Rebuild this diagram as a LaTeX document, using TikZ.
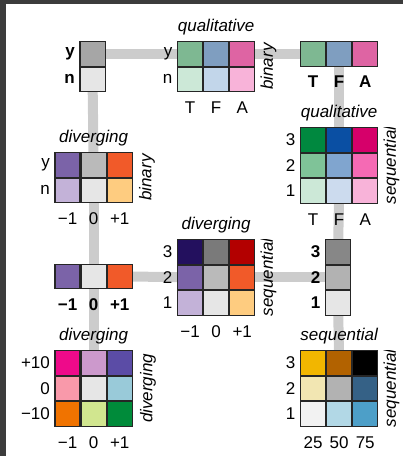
\documentclass[tikz,border=0pt]{standalone}
\usepackage{fontspec}
\setmainfont{Liberation Sans}
\usetikzlibrary{matrix,positioning,backgrounds}

\definecolor{framegray}{HTML}{3C3C3C}
\definecolor{linkgray}{HTML}{CCCCCC}
% grays
\definecolor{gA}{HTML}{E6E6E6}
\definecolor{gB}{HTML}{BABABA}
\definecolor{gC}{HTML}{A6A6A6}
\definecolor{gD}{HTML}{B2B2B2}
\definecolor{gE}{HTML}{7A7A7A}
% qualitative
\definecolor{qgrnA}{HTML}{CCE8D7}
\definecolor{qgrnB}{HTML}{7EB892}
\definecolor{qgrnC}{HTML}{7FC398}
\definecolor{qgrnD}{HTML}{00883F}
\definecolor{qbluA}{HTML}{C2D6EA}
\definecolor{qbluB}{HTML}{7F9EC0}
\definecolor{qbluC}{HTML}{80A5CF}
\definecolor{qbluD}{HTML}{0A4FA3}
\definecolor{qbluE}{HTML}{CCDBEE}
\definecolor{qpnkA}{HTML}{F8B3D9}
\definecolor{qpnkB}{HTML}{DE64A3}
\definecolor{qpnkC}{HTML}{F56AB4}
\definecolor{qpnkD}{HTML}{D6006A}
% diverging
\definecolor{dpurA}{HTML}{C3B2D8}
\definecolor{dpurB}{HTML}{7B63A8}
\definecolor{dpurC}{HTML}{23105E}
\definecolor{dorgA}{HTML}{FECC80}
\definecolor{dorgB}{HTML}{F15A29}
\definecolor{dorgC}{HTML}{B30000}
% diverging x diverging
\definecolor{ddA}{HTML}{EE0A8A}
\definecolor{ddB}{HTML}{CC99CC}
\definecolor{ddC}{HTML}{5B4CA6}
\definecolor{ddD}{HTML}{F999AA}
\definecolor{ddE}{HTML}{99CAD9}
\definecolor{ddF}{HTML}{F07300}
\definecolor{ddG}{HTML}{D1E68F}
\definecolor{ddH}{HTML}{008B3A}
% sequential x sequential
\definecolor{ssA}{HTML}{F2B600}
\definecolor{ssB}{HTML}{B26200}
\definecolor{ssC}{HTML}{F2E6B2}
\definecolor{ssD}{HTML}{356186}
\definecolor{ssE}{HTML}{F2F2F2}
\definecolor{ssF}{HTML}{B2D8E6}
\definecolor{ssG}{HTML}{4D9FC8}

\begin{document}
\begin{tikzpicture}[x=1pt, y=-1pt,
  every node/.style={font=\fontsize{17}{17}\selectfont, inner sep=0pt},
  cell/.style={draw=black!85, line width=1.1pt, minimum width=25pt, minimum height=24.5pt, outer sep=0pt},
  key/.style={matrix of nodes, nodes in empty cells, nodes={cell}, outer sep=0pt, anchor=north west},
  ttl/.style={font=\fontsize{17}{17}\selectfont\itshape},
  bold/.style={font=\fontsize{17}{17}\selectfont\bfseries},
  side/.style={font=\fontsize{17}{17}\selectfont\itshape, rotate=90, anchor=north},
  link/.style={draw=linkgray, line width=10pt}]

% frame
\fill[framegray] (0,0) rectangle (403,3.5);
\fill[framegray] (0,0) rectangle (6,456);
\useasboundingbox (0,0) rectangle (403,456);

% keys
\matrix (bin) at (79.5,41) [key] {
  |[fill=gC]| \\
  |[fill=gA]| \\
};
\matrix (qb) at (177,41) [key] {
  |[fill=qgrnB]| & |[fill=qbluB]| & |[fill=qpnkB]| \\
  |[fill=qgrnA]| & |[fill=qbluA]| & |[fill=qpnkA]| \\
};
\matrix (qual) at (300,41) [key] {
  |[fill=qgrnB]| & |[fill=qbluB]| & |[fill=qpnkB]| \\
};
\matrix (db) at (54.5,152) [key] {
  |[fill=dpurB]| & |[fill=gB]| & |[fill=dorgB]| \\
  |[fill=dpurA]| & |[fill=gA]| & |[fill=dorgA]| \\
};
\matrix (qs) at (300,127) [key] {
  |[fill=qgrnD]| & |[fill=qbluD]| & |[fill=qpnkD]| \\
  |[fill=qgrnC]| & |[fill=qbluC]| & |[fill=qpnkC]| \\
  |[fill=qgrnA]| & |[fill=qbluE]| & |[fill=qpnkA]| \\
};
\matrix (div) at (54.5,263.5) [key] {
  |[fill=dpurB]| & |[fill=gA]| & |[fill=dorgB]| \\
};
\matrix (ds) at (177,239) [key] {
  |[fill=dpurC]| & |[fill=gE]| & |[fill=dorgC]| \\
  |[fill=dpurB]| & |[fill=gB]| & |[fill=dorgB]| \\
  |[fill=dpurA]| & |[fill=gA]| & |[fill=dorgA]| \\
};
\matrix (seq) at (325,239) [key] {
  |[fill=gE!90!white]| \\
  |[fill=gD]| \\
  |[fill=gA]| \\
};
\matrix (dd) at (54.5,350) [key] {
  |[fill=ddA]| & |[fill=ddB]| & |[fill=ddC]| \\
  |[fill=ddD]| & |[fill=gA]| & |[fill=ddE]| \\
  |[fill=ddF]| & |[fill=ddG]| & |[fill=ddH]| \\
};
\matrix (ss) at (300,350) [key] {
  |[fill=ssA]| & |[fill=ssB]| & |[fill=black]| \\
  |[fill=ssC]| & |[fill=gD]| & |[fill=ssD]| \\
  |[fill=ssE]| & |[fill=ssF]| & |[fill=ssG]| \\
};

% links behind the keys
\begin{scope}[on background layer]
\draw[link] (bin-1-1.center) -- (qb-1-1.center);
\draw[link] (qb-1-3.center) -- (qual-1-1.center);
\draw[link] (bin-2-1.center) -- (db-1-2.center);
\draw[link] (db-2-2.center) -- (div-1-2.center);
\draw[link] (div-1-2.center) -- (dd-1-2.center);
\draw[link] (qual-1-2.center) -- (qs-1-2.center);
\draw[link] (qs-3-2.center) -- (seq-1-1.center);
\draw[link] (seq-3-1.center) -- (ss-1-2.center);
\draw[link] (div-1-3.center) -- (ds-2-1.center);
\draw[link] (ds-2-3.center) -- (seq-2-1.center);
\end{scope}

% binary
\node[bold, left=5pt of bin-1-1] {y};
\node[bold, left=5pt of bin-2-1] {n};

% qualitative x binary
\node[ttl, above=6pt of qb] {qualitative};
\node[left=5pt of qb-1-1] {y};
\node[left=5pt of qb-2-1] {n};
\foreach \c/\t in {1/T,2/F,3/A} \node[below=10pt of qb-2-\c] {\t};
\node[side] at ([xshift=5pt]qb.east) {binary};

% qualitative
\foreach \c/\t in {1/T,2/F,3/A} \node[bold, below=10pt of qual-1-\c] {\t};

% diverging x binary
\node[ttl, above=6pt of db] {diverging};
\node[left=5pt of db-1-1] {y};
\node[left=5pt of db-2-1] {n};
\foreach \c/\t in {1/−1,2/0,3/+1} \node[below=10pt of db-2-\c] {\t};
\node[side] at ([xshift=6pt]db.east) {binary};

% qualitative x sequential
\node[ttl, above=6pt of qs] {qualitative};
\foreach \r/\t in {1/3,2/2,3/1} \node[left=5pt of qs-\r-1] {\t};
\foreach \c/\t in {1/T,2/F,3/A} \node[below=10pt of qs-3-\c] {\t};
\begin{scope}
\clip (qs.north east) rectangle ([xshift=30pt,yshift=-10pt]qs.south east);
\node[side] at ([xshift=5pt]qs.east) {sequential};
\end{scope}

% diverging
\foreach \c/\t in {1/−1,2/0,3/+1} \node[bold, below=10pt of div-1-\c] {\t};

% diverging x sequential
\node[ttl, above=6pt of ds] {diverging};
\foreach \r/\t in {1/3,2/2,3/1} \node[left=5pt of ds-\r-1] {\t};
\foreach \c/\t in {1/−1,2/0,3/+1} \node[below=10pt of ds-3-\c] {\t};
\begin{scope}
\clip (ds.north east) rectangle ([xshift=30pt,yshift=-10pt]ds.south east);
\node[side] at ([xshift=5pt]ds.east) {sequential};
\end{scope}

% sequential
\foreach \r/\t in {1/3,2/2,3/1} \node[bold, left=5pt of seq-\r-1] {\t};

% diverging x diverging
\node[ttl, above=6pt of dd] {diverging};
\foreach \r/\t in {1/+10,2/0,3/−10} \node[left=5pt of dd-\r-1] {\t};
\foreach \c/\t in {1/−1,2/0,3/+1} \node[below=10pt of dd-3-\c] {\t};
\node[side] at ([xshift=7pt]dd.east) {diverging};

% sequential x sequential
\node[ttl, above=6pt of ss] {sequential};
\foreach \r/\t in {1/3,2/2,3/1} \node[left=5pt of ss-\r-1] {\t};
\foreach \c/\t in {1/25,2/50,3/75} \node[below=10pt of ss-3-\c] {\t};
\begin{scope}
\clip (ss.north east) rectangle ([xshift=30pt,yshift=-10pt]ss.south east);
\node[side] at ([xshift=5pt]ss.east) {sequential};
\end{scope}
\end{tikzpicture}
\end{document}
